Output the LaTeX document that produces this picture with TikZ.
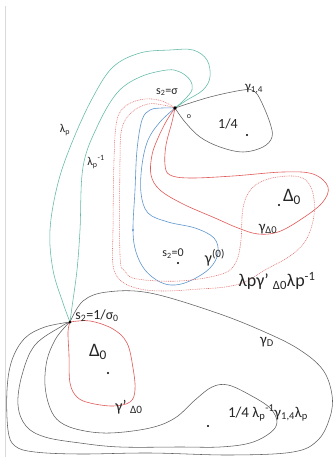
\documentclass[tikz,border=0pt]{standalone}
\usepackage{fontspec}
\setmainfont{Carlito}
\definecolor{tealc}{RGB}{95,185,165}
\definecolor{bluec}{RGB}{95,150,205}
\definecolor{redc}{RGB}{225,90,90}
\definecolor{dotc}{RGB}{230,110,110}
\definecolor{inkc}{RGB}{95,95,95}
\newcommand{\fs}[1]{\fontsize{#1}{#1}\selectfont}
\newcommand{\lo}[1]{\textsubscript{#1}}
\newcommand{\hi}[1]{\textsuperscript{#1}}
\begin{document}
\begin{tikzpicture}[x=1pt,y=-1pt,
  ink/.style={draw=inkc, line width=0.55pt},
  grn/.style={draw=tealc, line width=0.55pt},
  blu/.style={draw=bluec, line width=0.6pt},
  rline/.style={draw=redc, line width=0.6pt},
  rdot/.style={draw=dotc, line width=0.55pt, dash pattern=on 0.9pt off 0.9pt},
  lbl/.style={inner sep=0pt, text=black!85},
  pt/.style={circle, fill=black, inner sep=0pt, minimum size=2.2pt},
  base/.style={circle, fill=black, inner sep=0pt, minimum size=3.6pt}]
\useasboundingbox (0,0) rectangle (334,457);
\fill[white] (0,0) rectangle (334,457);
\draw[black!15, line width=1pt] (5.5,6) -- (5.5,457);

% base points
\coordinate (sig) at (175,108);
\coordinate (isig) at (70,322);

% lambda_p and its inverse
\draw[grn] plot[smooth, tension=0.6] coordinates {(isig) (63,303) (53,270) (50,230) (58,183) (73,140) (93,97) (113,67) (140,53) (170,50) (193,50) (207,60) (210,77) (203,90) (187,100) (sig)};
\draw[grn] plot[smooth, tension=0.6] coordinates {(isig) (72,307) (77,270) (80,230) (83,167) (97,127) (117,93) (140,77) (167,70) (180,72) (190,80) (192,90) (184,100) (sig)};

% gamma_{1,4}
\draw[ink] plot[smooth, tension=0.6] coordinates {(sig) (210,97) (243,90) (254,91) (261,101) (270,123) (272,137) (263,147) (243,152) (220,147) (200,137) (185,122) (sig)};

% gamma^{(0)}
\draw[blu] plot[smooth, tension=0.6] coordinates {(sig) (162,108) (150,110) (142,120) (137,150) (135,190) (133,230) (136,252) (145,270) (160,282) (175,285) (192,280) (210,268) (218,253) (214,238) (195,228) (168,222) (148,213) (141,193) (142,165) (148,140) (160,122) (sig)};
\node[circle, fill=bluec, inner sep=0pt, minimum size=2.4pt] (b0) at (133,230) {};

% gamma_{Delta0}
\draw[rline] plot[smooth, tension=0.6] coordinates {(sig) (172,122) (166,145) (165,165) (170,175) (190,178) (233,176) (283,172) (313,174) (328,187) (322,203) (300,220) (278,232) (258,234) (238,228) (215,218) (183,204) (160,190) (151,175) (152,155) (158,138) (167,120) (sig)};

% conjugated loop, dotted
\draw[rdot] plot[smooth, tension=0.6] coordinates {(sig) (162,101) (145,99) (127,105) (117,120) (114,160) (113,230) (113,265) (121,281) (140,289) (165,291) (200,289) (225,287) (245,282) (265,270) (290,256) (306,240) (314,215) (312,190) (300,177) (272,178) (252,188) (243,208) (241,240) (236,262) (222,274) (180,281) (137,279) (125,271) (120,255) (120,160) (122,128) (132,112) (148,104) (163,105) (sig)};

% gamma'_{Delta0}
\draw[rline] plot[smooth, tension=0.6] coordinates {(isig) (90,321) (113,329) (127,343) (133,368) (135,390) (130,402) (113,406) (90,403) (77,397) (70,383) (69,355) (68,332) (isig)};

% gamma_D
\draw[ink] plot[smooth, tension=0.6] coordinates {(isig) (83,301) (107,292) (150,293) (217,313) (267,333) (300,350) (323,370) (332,395) (330,417) (318,440) (293,452) (230,455) (150,453) (80,454) (35,452) (15,446) (8,430) (7,390) (12,360) (25,338) (45,327) (isig)};

% lambda_p^{-1} gamma_{1,4} lambda_p
\draw[ink] plot[smooth, tension=0.6] coordinates {(isig) (62,326) (35,345) (22,375) (18,405) (26,426) (45,437) (80,443) (120,447) (180,447) (220,447) (250,443) (270,433) (277,422) (270,408) (250,395) (228,385) (212,387) (195,400) (175,418) (150,428) (110,433) (80,430) (60,422) (50,408) (45,385) (47,360) (55,340) (64,328) (isig)};

% marked points
\node[base] (sigdot) at (sig) {};
\node[base, minimum size=3pt] (isigdot) at (isig) {};
\node[pt] (p14) at (247,135) {};
\node[pt] (pd0) at (279,205) {};
\node[pt] (ps0) at (178,263) {};
\node[pt] (pd1) at (108,373) {};
\node[pt] (p14b) at (208,426) {};

% labels
\node[lbl, font=\fs{12}] (ls) at (167,92) {s\lo{2}=σ};
\node[lbl, font=\fs{8}] (lo) at (189,117) {o};
\node[lbl, font=\fs{14}] (l14) at (228,124) {1/4};
\node[lbl, font=\fs{13}] (lg14) at (254,89) {γ\lo{1,4}};
\node[lbl, font=\fs{12}] (llp) at (65,130) {λ\lo{p}};
\node[lbl, font=\fs{12}] (llpi) at (96,162) {λ\lo{p}\hi{-1}};
\node[lbl, font=\fs{19}] (ld0) at (292,197) {Δ\lo{0}};
\node[lbl, font=\fs{15}] (lgd0) at (268,229) {γ\lo{Δ0}};
\node[lbl, font=\fs{12}] (ls0) at (173,254) {s\lo{2}=0};
\node[lbl, font=\fs{16}] (lg0) at (215,258) {γ\hi{(0)}};
\node[lbl, font=\fs{18}] (lconj) at (277,281) {λpγ’ \lo{Δ0}λp\hi{-1}};
\node[lbl, font=\fs{14}] (lis) at (97,316) {s\lo{2}=1/σ\lo{0}};
\node[lbl, font=\fs{19}] (ld1) at (98,352) {Δ\lo{0}};
\node[lbl, font=\fs{16}] (lgd1) at (129,407) {γ’ \lo{Δ0}};
\node[lbl, font=\fs{15}] (lgD) at (267,342) {γ\lo{D}};
\node[lbl, font=\fs{15}] (lbot) at (268,413) {1/4 λ\lo{p}\hi{-1}γ\lo{1,4}λ\lo{p}};
\end{tikzpicture}
\end{document}
